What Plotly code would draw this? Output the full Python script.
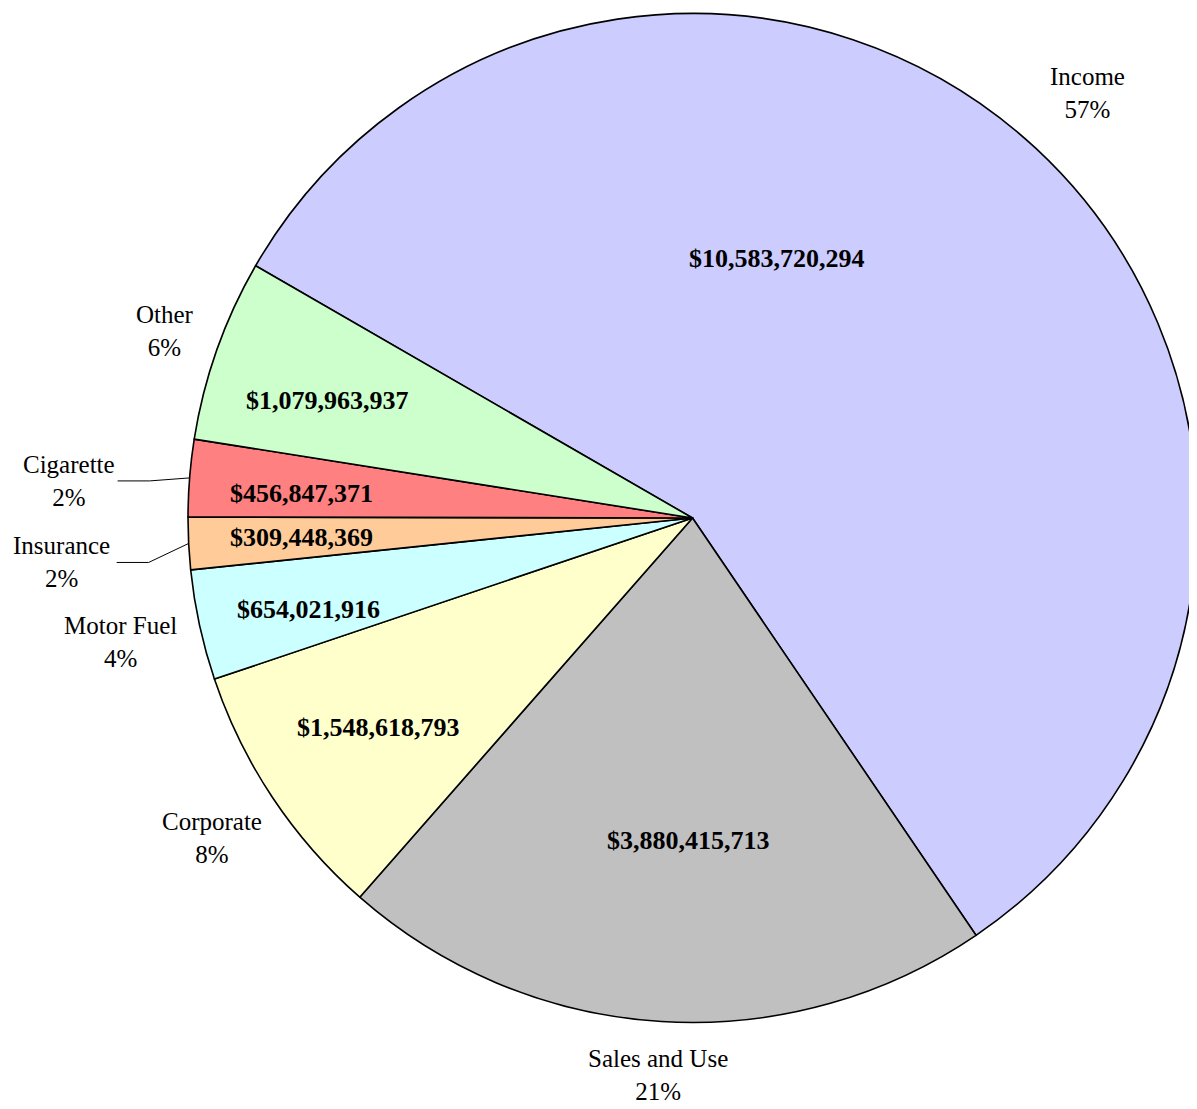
import math
import plotly.graph_objects as go

# ---- data ----
categories = ["Income", "Sales and Use", "Corporate", "Motor Fuel", "Insurance", "Cigarette", "Other"]
revenues = [10583720294, 3880415713, 1548618793, 654021916, 309448369, 456847371, 1079963937]
percent_labels = ["57%", "21%", "8%", "4%", "2%", "2%", "6%"]

# ---- style ----
colors = ["#CCCCFF", "#C0C0C0", "#FFFFCC", "#CCFFFF", "#FFCC99", "#FF8080", "#CCFFCC"]
W, H = 1189, 1101
LEFT = 180                      # left edge of the pie in figure pixels
CY = 510                        # vertical centre of the pie in figure pixels
R = (W - LEFT) / 2              # radius (width limited)
CX = LEFT + R
ROTATION = 300
FONT = "Liberation Serif"
# outside label distance (in radii) along each slice's mid-angle
label_radius = {"Income": 1.15, "Sales and Use": 1.107, "Corporate": 1.145,
                "Motor Fuel": 1.16, "Other": 1.11}
# labels drawn with a leader line: pixel offset of label centre from slice edge
leader_offsets = {"Cigarette": (-121, 3), "Insurance": (-127, 19)}
LEADER_START, LEADER_ELBOW = -72, -40
# inside value label placement: (radius fraction, angle shift in degrees)
value_pos = {"Income": (0.540, -24.9), "Sales and Use": (0.640, -2.9),
             "Corporate": (0.748, 0.0), "Motor Fuel": (0.783, -1.2),
             "Insurance": (0.776, 0.0), "Cigarette": (0.777, -1.0),
             "Other": (0.759, -1.7)}

value_text = ["$" + f"{v:,}" for v in revenues]

fig = go.Figure()
fig.add_trace(go.Pie(
    labels=categories,
    values=revenues,
    textinfo="none",
    marker=dict(colors=colors, line=dict(color="black", width=1.6)),
    sort=False,
    direction="clockwise",
    rotation=ROTATION,
    showlegend=False,
    hoverinfo="label+value+percent",
    domain=dict(x=[LEFT / W, 1], y=[1 - (CY + R) / H, 1 - (CY - R) / H]),
))


def to_paper(px, py):
    return px / W, 1 - py / H


total = sum(revenues)
cum = 0
annotations = []
shapes = []
for cat, v, pct, vt in zip(categories, revenues, percent_labels, value_text):
    mid_deg = ROTATION + 360 * (cum + v / 2) / total
    cum += v
    mid = math.radians(mid_deg)
    ux, uy = math.sin(mid), -math.cos(mid)
    txt = f"{cat}<br>{pct}"
    if cat in leader_offsets:
        dx, dy = leader_offsets[cat]
        ex, ey = CX + R * ux, CY + R * uy
        lx, ly = ex + dx, ey + dy
        x, y = to_paper(lx, ly)
        annotations.append(dict(
            x=x, y=y, xref="paper", yref="paper", text=txt,
            showarrow=False, xanchor="center", yanchor="middle",
            font=dict(family=FONT, size=25, color="black"), align="center"))
        p0 = to_paper(ex + LEADER_START, ly)
        p1 = to_paper(ex + LEADER_ELBOW, ly)
        p2 = to_paper(ex, ey)
        shapes.append(dict(
            type="path", xref="paper", yref="paper",
            path=f"M {p0[0]},{p0[1]} L {p1[0]},{p1[1]} L {p2[0]},{p2[1]}",
            line=dict(color="black", width=1)))
    else:
        f = label_radius[cat]
        x, y = to_paper(CX + f * R * ux, CY + f * R * uy)
        annotations.append(dict(
            x=x, y=y, xref="paper", yref="paper", text=txt,
            showarrow=False, xanchor="center", yanchor="middle",
            font=dict(family=FONT, size=25, color="black"), align="center"))
    # value label inside the slice
    rf, shift = value_pos[cat]
    a = math.radians(mid_deg + shift)
    x, y = to_paper(CX + rf * R * math.sin(a), CY - rf * R * math.cos(a))
    annotations.append(dict(
        x=x, y=y, xref="paper", yref="paper", text=f"<b>{vt}</b>",
        showarrow=False, xanchor="center", yanchor="middle",
        font=dict(family=FONT, size=26, color="black")))

fig.update_layout(
    width=W, height=H,
    margin=dict(l=0, r=0, t=0, b=0),
    paper_bgcolor="white",
    plot_bgcolor="white",
    annotations=annotations,
    shapes=shapes,
)

fig.write_html("out.html")
